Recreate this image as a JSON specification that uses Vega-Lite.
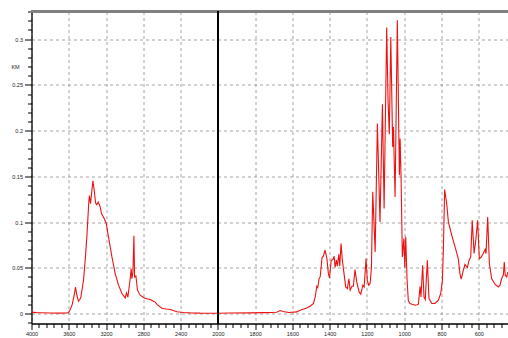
{
  "$schema": "https://vega.github.io/schema/vega-lite/v6.json",
  "width": 476.5,
  "height": 312,
  "autosize": "none",
  "padding": {"left": 31.5, "top": 11.5, "right": 0, "bottom": 14.5},
  "background": "white",
  "config": {
    "view": {"stroke": null},
    "axis": {
      "domainColor": "black",
      "domainWidth": 1.3,
      "tickColor": "black",
      "tickWidth": 1,
      "labelFont": "Liberation Sans",
      "labelFontSize": 5.5,
      "labelColor": "#222222",
      "labelOverlap": false,
      "labelFlush": false,
      "labelBound": false,
      "gridColor": "#9a9a9a",
      "gridDash": [3, 3],
      "gridWidth": 0.9
    }
  },
  "data": {
    "values": [
      {"wavenumber": 4000, "km": 0.0015},
      {"wavenumber": 3950, "km": 0.0010},
      {"wavenumber": 3900, "km": 0.0008},
      {"wavenumber": 3800, "km": 0.0005},
      {"wavenumber": 3700, "km": 0.0004},
      {"wavenumber": 3620, "km": 0.0005},
      {"wavenumber": 3603, "km": 0.0010},
      {"wavenumber": 3585, "km": 0.0040},
      {"wavenumber": 3563, "km": 0.0100},
      {"wavenumber": 3542, "km": 0.0200},
      {"wavenumber": 3528, "km": 0.0290},
      {"wavenumber": 3515, "km": 0.0210},
      {"wavenumber": 3496, "km": 0.0134},
      {"wavenumber": 3472, "km": 0.0170},
      {"wavenumber": 3442, "km": 0.0364},
      {"wavenumber": 3424, "km": 0.0580},
      {"wavenumber": 3406, "km": 0.0838},
      {"wavenumber": 3384, "km": 0.1239},
      {"wavenumber": 3378, "km": 0.1290},
      {"wavenumber": 3367, "km": 0.1200},
      {"wavenumber": 3341, "km": 0.1450},
      {"wavenumber": 3327, "km": 0.1348},
      {"wavenumber": 3313, "km": 0.1210},
      {"wavenumber": 3300, "km": 0.1190},
      {"wavenumber": 3284, "km": 0.1220},
      {"wavenumber": 3263, "km": 0.1166},
      {"wavenumber": 3249, "km": 0.1093},
      {"wavenumber": 3220, "km": 0.1039},
      {"wavenumber": 3198, "km": 0.0984},
      {"wavenumber": 3174, "km": 0.0838},
      {"wavenumber": 3137, "km": 0.0619},
      {"wavenumber": 3102, "km": 0.0437},
      {"wavenumber": 3066, "km": 0.0310},
      {"wavenumber": 3030, "km": 0.0219},
      {"wavenumber": 2995, "km": 0.0171},
      {"wavenumber": 2981, "km": 0.0225},
      {"wavenumber": 2966, "km": 0.0180},
      {"wavenumber": 2941, "km": 0.0380},
      {"wavenumber": 2930, "km": 0.0490},
      {"wavenumber": 2923, "km": 0.0380},
      {"wavenumber": 2912, "km": 0.0450},
      {"wavenumber": 2901, "km": 0.0849},
      {"wavenumber": 2894, "km": 0.0400},
      {"wavenumber": 2880, "km": 0.0410},
      {"wavenumber": 2863, "km": 0.0255},
      {"wavenumber": 2834, "km": 0.0200},
      {"wavenumber": 2780, "km": 0.0164},
      {"wavenumber": 2726, "km": 0.0153},
      {"wavenumber": 2691, "km": 0.0134},
      {"wavenumber": 2673, "km": 0.0125},
      {"wavenumber": 2648, "km": 0.0095},
      {"wavenumber": 2601, "km": 0.0058},
      {"wavenumber": 2555, "km": 0.0050},
      {"wavenumber": 2512, "km": 0.0044},
      {"wavenumber": 2440, "km": 0.0020},
      {"wavenumber": 2369, "km": 0.0012},
      {"wavenumber": 2297, "km": 0.0007},
      {"wavenumber": 2190, "km": 0.0004},
      {"wavenumber": 2000, "km": 0.0003},
      {"wavenumber": 1934, "km": 0.0005},
      {"wavenumber": 1827, "km": 0.0007},
      {"wavenumber": 1746, "km": 0.0010},
      {"wavenumber": 1684, "km": 0.0014},
      {"wavenumber": 1666, "km": 0.0033},
      {"wavenumber": 1648, "km": 0.0022},
      {"wavenumber": 1621, "km": 0.0011},
      {"wavenumber": 1576, "km": 0.0018},
      {"wavenumber": 1559, "km": 0.0036},
      {"wavenumber": 1523, "km": 0.0060},
      {"wavenumber": 1505, "km": 0.0080},
      {"wavenumber": 1487, "km": 0.0110},
      {"wavenumber": 1478, "km": 0.0180},
      {"wavenumber": 1469, "km": 0.0299},
      {"wavenumber": 1464, "km": 0.0284},
      {"wavenumber": 1457, "km": 0.0380},
      {"wavenumber": 1451, "km": 0.0400},
      {"wavenumber": 1441, "km": 0.0612},
      {"wavenumber": 1434, "km": 0.0627},
      {"wavenumber": 1425, "km": 0.0692},
      {"wavenumber": 1415, "km": 0.0600},
      {"wavenumber": 1407, "km": 0.0437},
      {"wavenumber": 1401, "km": 0.0390},
      {"wavenumber": 1392, "km": 0.0583},
      {"wavenumber": 1383, "km": 0.0590},
      {"wavenumber": 1376, "km": 0.0627},
      {"wavenumber": 1371, "km": 0.0503},
      {"wavenumber": 1364, "km": 0.0583},
      {"wavenumber": 1359, "km": 0.0517},
      {"wavenumber": 1351, "km": 0.0648},
      {"wavenumber": 1346, "km": 0.0517},
      {"wavenumber": 1339, "km": 0.0765},
      {"wavenumber": 1332, "km": 0.0583},
      {"wavenumber": 1323, "km": 0.0437},
      {"wavenumber": 1314, "km": 0.0290},
      {"wavenumber": 1305, "km": 0.0273},
      {"wavenumber": 1297, "km": 0.0380},
      {"wavenumber": 1290, "km": 0.0255},
      {"wavenumber": 1281, "km": 0.0299},
      {"wavenumber": 1273, "km": 0.0299},
      {"wavenumber": 1264, "km": 0.0480},
      {"wavenumber": 1255, "km": 0.0346},
      {"wavenumber": 1242, "km": 0.0236},
      {"wavenumber": 1233, "km": 0.0211},
      {"wavenumber": 1222, "km": 0.0310},
      {"wavenumber": 1215, "km": 0.0290},
      {"wavenumber": 1205, "km": 0.0600},
      {"wavenumber": 1198, "km": 0.0360},
      {"wavenumber": 1190, "km": 0.0310},
      {"wavenumber": 1183, "km": 0.0330},
      {"wavenumber": 1176, "km": 0.0500},
      {"wavenumber": 1169, "km": 0.1330},
      {"wavenumber": 1156, "km": 0.0674},
      {"wavenumber": 1144, "km": 0.2077},
      {"wavenumber": 1130, "km": 0.1002},
      {"wavenumber": 1117, "km": 0.2288},
      {"wavenumber": 1108, "km": 0.1148},
      {"wavenumber": 1094, "km": 0.3127},
      {"wavenumber": 1087, "km": 0.2340},
      {"wavenumber": 1080, "km": 0.1960},
      {"wavenumber": 1072, "km": 0.3024},
      {"wavenumber": 1062, "km": 0.1822},
      {"wavenumber": 1058, "km": 0.2040},
      {"wavenumber": 1049, "km": 0.1275},
      {"wavenumber": 1037, "km": 0.3207},
      {"wavenumber": 1026, "km": 0.1512},
      {"wavenumber": 1022, "km": 0.1913},
      {"wavenumber": 1017, "km": 0.1494},
      {"wavenumber": 1010, "km": 0.0619},
      {"wavenumber": 1002, "km": 0.0820},
      {"wavenumber": 997, "km": 0.0500},
      {"wavenumber": 992, "km": 0.0838},
      {"wavenumber": 985, "km": 0.0380},
      {"wavenumber": 978, "km": 0.0140},
      {"wavenumber": 969, "km": 0.0110},
      {"wavenumber": 958, "km": 0.0102},
      {"wavenumber": 942, "km": 0.0090},
      {"wavenumber": 930, "km": 0.0095},
      {"wavenumber": 924, "km": 0.0102},
      {"wavenumber": 915, "km": 0.0299},
      {"wavenumber": 910, "km": 0.0182},
      {"wavenumber": 901, "km": 0.0528},
      {"wavenumber": 894, "km": 0.0182},
      {"wavenumber": 887, "km": 0.0153},
      {"wavenumber": 876, "km": 0.0583},
      {"wavenumber": 867, "km": 0.0164},
      {"wavenumber": 852, "km": 0.0110},
      {"wavenumber": 835, "km": 0.0110},
      {"wavenumber": 817, "km": 0.0145},
      {"wavenumber": 804, "km": 0.0219},
      {"wavenumber": 795, "km": 0.0364},
      {"wavenumber": 790, "km": 0.0692},
      {"wavenumber": 783, "km": 0.1356},
      {"wavenumber": 772, "km": 0.1203},
      {"wavenumber": 763, "km": 0.1002},
      {"wavenumber": 745, "km": 0.0856},
      {"wavenumber": 727, "km": 0.0728},
      {"wavenumber": 710, "km": 0.0601},
      {"wavenumber": 701, "km": 0.0437},
      {"wavenumber": 694, "km": 0.0375},
      {"wavenumber": 683, "km": 0.0473},
      {"wavenumber": 674, "km": 0.0536},
      {"wavenumber": 661, "km": 0.0503},
      {"wavenumber": 652, "km": 0.0583},
      {"wavenumber": 643, "km": 0.0619},
      {"wavenumber": 635, "km": 0.1020},
      {"wavenumber": 625, "km": 0.0656},
      {"wavenumber": 615, "km": 0.0820},
      {"wavenumber": 606, "km": 0.1020},
      {"wavenumber": 597, "km": 0.0601},
      {"wavenumber": 588, "km": 0.0612},
      {"wavenumber": 576, "km": 0.0656},
      {"wavenumber": 566, "km": 0.0700},
      {"wavenumber": 561, "km": 0.0656},
      {"wavenumber": 552, "km": 0.1056},
      {"wavenumber": 543, "km": 0.0547},
      {"wavenumber": 531, "km": 0.0383},
      {"wavenumber": 513, "km": 0.0320},
      {"wavenumber": 495, "km": 0.0290},
      {"wavenumber": 486, "km": 0.0310},
      {"wavenumber": 477, "km": 0.0383},
      {"wavenumber": 468, "km": 0.0419},
      {"wavenumber": 463, "km": 0.0564},
      {"wavenumber": 458, "km": 0.0419},
      {"wavenumber": 450, "km": 0.0400},
      {"wavenumber": 443, "km": 0.0455}
    ]
  },
  "layer": [
    {
      "mark": {"type": "line", "color": "#ee1111", "strokeWidth": 1.1, "clip": true},
      "encoding": {
        "x": {
          "field": "wavenumber",
          "type": "quantitative",
          "scale": {"domain": [4000, 2000, 443], "range": [0, 186.4, 476.5], "nice": false, "zero": false},
          "axis": {
            "title": null,
            "tickCount": 1000,
            "values": [4000, 3920, 3840, 3760, 3680, 3600, 3520, 3440, 3360, 3280, 3200, 3120, 3040, 2960, 2880, 2800, 2720, 2640, 2560, 2480, 2400, 2320, 2240, 2160, 2080, 2000, 1960, 1920, 1880, 1840, 1800, 1760, 1720, 1680, 1640, 1600, 1560, 1520, 1480, 1440, 1400, 1360, 1320, 1280, 1240, 1200, 1160, 1120, 1080, 1040, 1000, 960, 920, 880, 840, 800, 760, 720, 680, 640, 600, 560, 520, 480],
            "labelExpr": "((datum.value >= 2000 && datum.value % 400 == 0) || (datum.value <= 2000 && datum.value % 200 == 0)) ? format(datum.value, 'd') : ''",
            "tickSize": {"condition": {"test": "(datum.value >= 2000 && datum.value % 400 == 0) || (datum.value <= 2000 && datum.value % 200 == 0)", "value": 6}, "value": 4},
            "gridOpacity": {"condition": {"test": "(datum.value >= 2000 && datum.value % 400 == 0) || (datum.value <= 2000 && datum.value % 200 == 0)", "value": 1}, "value": 0},
            "labelPadding": 2
          }
        },
        "y": {
          "field": "km",
          "type": "quantitative",
          "scale": {"domain": [-0.0109, 0.3302], "nice": false, "zero": false},
          "axis": {
            "title": "KM",
            "titleAngle": 0,
            "titleX": -16.5,
            "titleY": 54.5,
            "titleAlign": "center",
            "titleBaseline": "middle",
            "titleFont": "Liberation Sans",
            "titleFontSize": 5.5,
            "titleFontWeight": "normal",
            "titleColor": "#222222",
            "tickCount": 1000,
            "values": [-0.01, 0, 0.01, 0.02, 0.03, 0.04, 0.05, 0.06, 0.07, 0.08, 0.09, 0.1, 0.11, 0.12, 0.13, 0.14, 0.15, 0.16, 0.17, 0.18, 0.19, 0.2, 0.21, 0.22, 0.23, 0.24, 0.25, 0.26, 0.27, 0.28, 0.29, 0.3, 0.31, 0.32, 0.33],
            "labelExpr": "abs(datum.value * 20 - round(datum.value * 20)) < 1e-6 ? format(datum.value, '~g') : ''",
            "tickSize": {"condition": {"test": "abs(datum.value * 20 - round(datum.value * 20)) < 1e-6", "value": 7}, "value": 4},
            "gridOpacity": {"condition": {"test": "abs(datum.value * 20 - round(datum.value * 20)) < 1e-6", "value": 1}, "value": 0},
            "labelPadding": 2
          }
        }
      }
    },
    {
      "mark": {"type": "rule", "color": "#808080", "strokeWidth": 2},
      "encoding": {"y": {"datum": 0.3302, "type": "quantitative"}}
    },
    {
      "mark": {"type": "rule", "color": "black", "strokeWidth": 1.2},
      "encoding": {"x": {"datum": 2000, "type": "quantitative"}}
    }
  ]
}
